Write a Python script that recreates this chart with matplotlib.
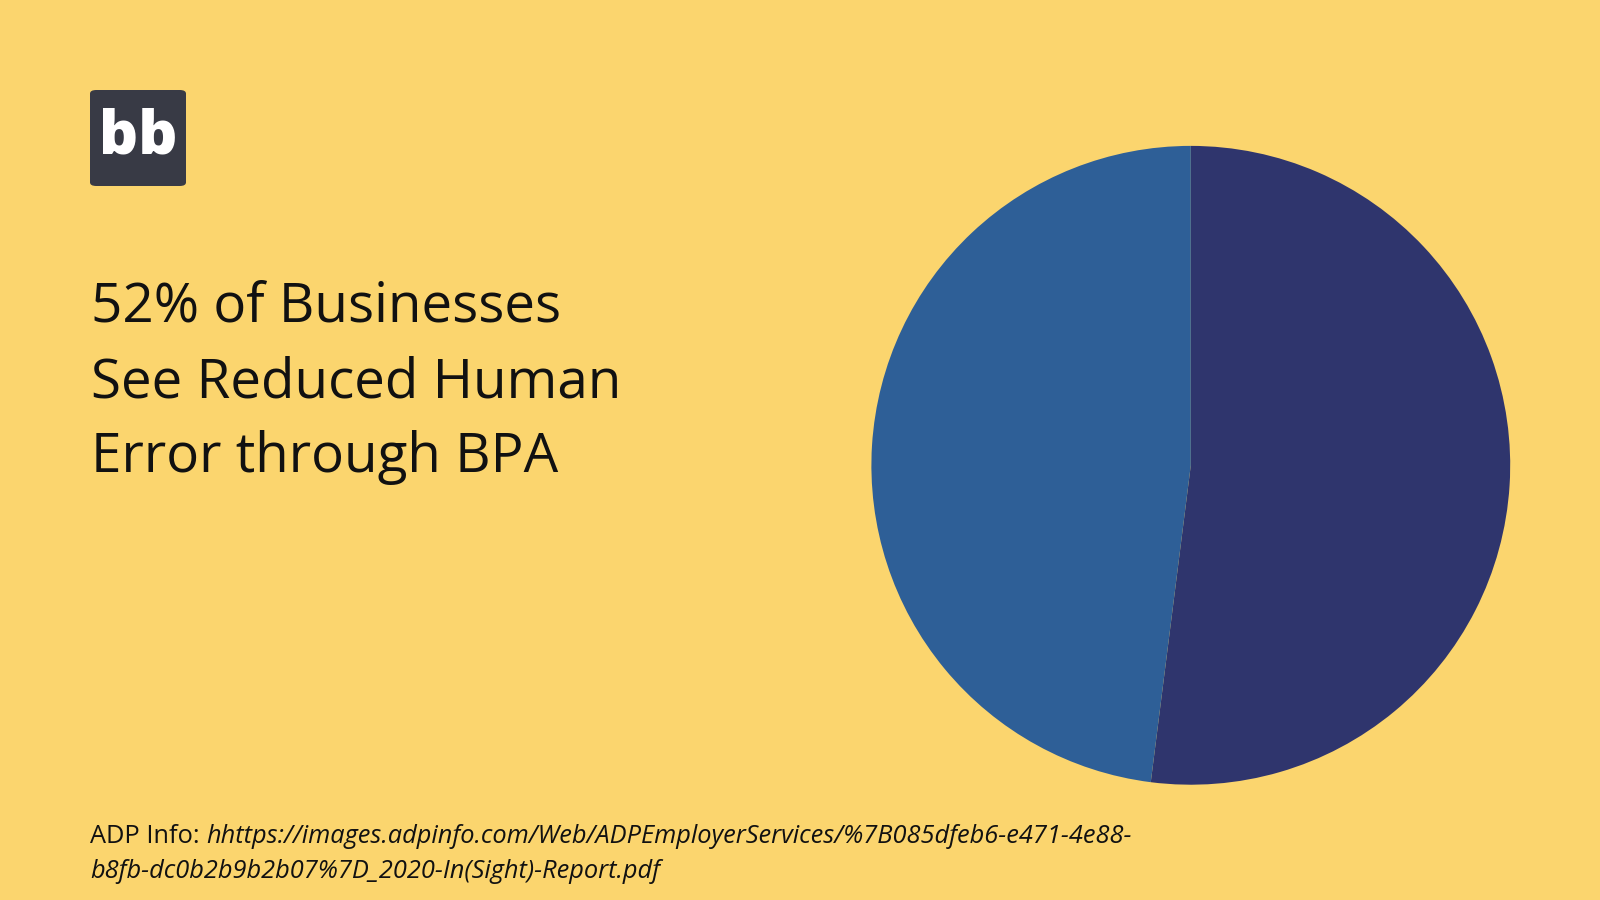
import matplotlib
matplotlib.use("Agg")
import matplotlib.pyplot as plt
from matplotlib.patches import FancyBboxPatch

# data
labels = ["Reduced human error", "Other"]
shares = [52, 48]
colors = ["#2f356d", "#2e5f97"]

title_lines = ["52% of Businesses", "See Reduced Human", "Error through BPA"]
source_label = "ADP Info: "
source_url_1 = "hhttps://images.adpinfo.com/Web/ADPEmployerServices/%7B085dfeb6-e471-4e88-"
source_url_2 = "b8fb-dc0b2b9b2b07%7D_2020-In(Sight)-Report.pdf"

bg = "#fbd56e"
plt.rcParams['font.family'] = ['Open Sans', 'DejaVu Sans']

fig = plt.figure(figsize=(16, 9), dpi=100, facecolor=bg)

# pie
ax = fig.add_axes([0.5446, 0.1281, 0.3993, 0.7098])
ax.pie(shares, colors=colors, startangle=90, counterclock=False,
       wedgeprops=dict(linewidth=0))
ax.set_xlim(-1, 1)
ax.set_ylim(-1, 1)
ax.set_aspect('equal')
ax.axis('off')

# logo
logo = FancyBboxPatch((90 / 1600, 1 - 186 / 900), 96 / 1600, 96 / 900,
                      boxstyle="round,pad=0,rounding_size=0.004",
                      transform=fig.transFigure, facecolor="#383a45",
                      edgecolor="none")
fig.patches.append(logo)
fig.text(138 / 1600, 1 - 137 / 900, "bb", color="white", fontsize=44,
         fontweight="heavy", ha="center", va="center")

# title
for i, line in enumerate(title_lines):
    fig.text(91 / 1600, 1 - (307 + i * 75.5) / 900, line, fontsize=39.4,
             color="#111111", ha="left", va="center")

# source
t1 = fig.text(90 / 1600, 1 - 843 / 900, source_label, fontsize=18.3,
              color="#111111", ha="left", va="baseline")
plt.annotate(source_url_1, xy=(1, 0), xycoords=t1, va="bottom",
             fontsize=18.3, style="italic", color="#111111",
             annotation_clip=False)
fig.text(90 / 1600, 1 - 878 / 900, source_url_2, fontsize=18.3,
         style="italic", color="#111111", ha="left", va="baseline")

fig.savefig("out.png", dpi=100, facecolor=bg)
